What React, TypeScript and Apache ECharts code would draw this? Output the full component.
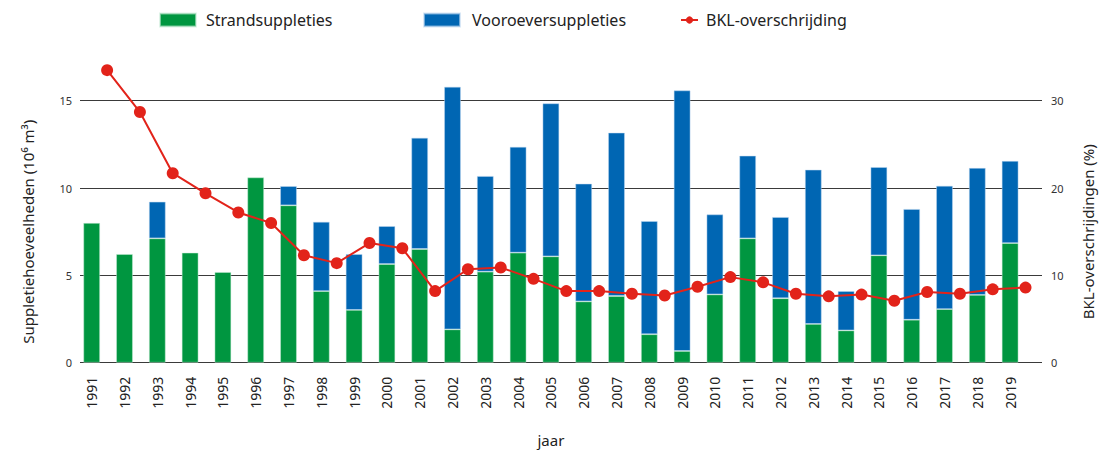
import React, { useEffect, useRef } from "react";
import * as echarts from "echarts";

const years = [
  "1991", "1992", "1993", "1994", "1995", "1996", "1997", "1998", "1999", "2000",
  "2001", "2002", "2003", "2004", "2005", "2006", "2007", "2008", "2009", "2010",
  "2011", "2012", "2013", "2014", "2015", "2016", "2017", "2018", "2019",
];

const strandsuppleties = [
  8.0, 6.22, 7.12, 6.3, 5.19, 10.61, 9.01, 4.1, 3.02, 5.65,
  6.51, 1.91, 5.21, 6.3, 6.09, 3.51, 3.82, 1.63, 0.67, 3.91,
  7.12, 3.69, 2.22, 1.85, 6.15, 2.46, 3.07, 3.88, 6.85,
];

const vooroeversuppleties = [
  null, null, 2.1, null, null, null, 1.1, 3.97, 3.2, 2.17,
  6.37, 13.89, 5.48, 6.06, 8.76, 6.74, 9.35, 6.48, 14.92, 4.58,
  4.73, 4.65, 8.83, 2.25, 5.05, 6.34, 7.06, 7.27, 4.7,
];

const bklOverschrijding = [
  33.5, 28.7, 21.7, 19.4, 17.2, 16.0, 12.3, 11.4, 13.7, 13.1,
  8.2, 10.7, 10.9, 9.6, 8.2, 8.2, 7.9, 7.7, 8.7, 9.8,
  9.2, 7.9, 7.6, 7.8, 7.1, 8.1, 7.9, 8.4, 8.6,
];

const leftTicks = { min: 0, max: 15, interval: 5 };
const rightTicks = { min: 0, max: 30, interval: 10 };

const LINE_OFFSET = 0.47;

const GREEN = "#009640";
const BLUE = "#0066b3";
const RED = "#e2231a";
const FONT = "Noto Sans";

export default function App() {
  const ref = useRef<HTMLDivElement>(null);

  useEffect(() => {
    if (!ref.current) return;
    const chart = echarts.init(ref.current, null, { renderer: "svg" });
    const top = 100.7;
    const height = 262;

    const legendText = (pad: number) => ({
      fontSize: 16,
      color: "#222",
      fontFamily: FONT,
      padding: [0, 0, 0, pad],
    });

    const option: any = {
      animation: false,
      backgroundColor: "#ffffff",
      textStyle: { fontFamily: FONT },
      legend: [
        {
          data: [{ name: "Strandsuppleties", icon: "rect" }],
          left: 159,
          top: 12,
          padding: 0,
          itemWidth: 36,
          itemHeight: 13,
          textStyle: legendText(5),
        },
        {
          data: [{ name: "Vooroeversuppleties", icon: "rect" }],
          left: 423,
          top: 12,
          padding: 0,
          itemWidth: 36,
          itemHeight: 13,
          textStyle: legendText(7),
        },
        {
          data: ["BKL-overschrijding"],
          left: 680,
          top: 12,
          padding: 0,
          itemWidth: 17,
          itemHeight: 9,
          textStyle: legendText(3),
        },
      ],
      grid: [
        { left: 80, right: 68, top, height },
        { left: 75.3, width: 951.2, top, height },
      ],
      xAxis: [
        { type: "value", gridIndex: 0, show: false, min: 0, max: 1 },
        {
          type: "category",
          gridIndex: 1,
          data: years,
          axisLine: { show: false },
          axisTick: { show: false },
          axisLabel: {
            rotate: 90,
            margin: 14,
            fontSize: 14,
            color: "#222",
            fontFamily: FONT,
            interval: 0,
          },
          name: "jaar",
          nameLocation: "middle",
          nameGap: 70,
          nameTextStyle: { fontSize: 15, color: "#222", fontFamily: FONT },
        },
        { type: "value", gridIndex: 1, show: false, min: -0.5, max: years.length - 0.5 },
      ],
      yAxis: [
        {
          type: "value",
          gridIndex: 0,
          position: "left",
          ...leftTicks,
          axisLine: { show: false },
          axisTick: { show: false },
          splitLine: { show: true, lineStyle: { color: "#3a3a3a", width: 1 } },
          axisLabel: { margin: 8, fontSize: 11, color: "#333", fontFamily: FONT },
          name: "Suppletiehoeveelheden (10\u2076 m\u00b3)",
          nameLocation: "middle",
          nameRotate: 90,
          nameGap: 45,
          nameTextStyle: { fontSize: 15, color: "#222", fontFamily: FONT },
        },
        {
          type: "value",
          gridIndex: 0,
          position: "right",
          ...rightTicks,
          axisLine: { show: false },
          axisTick: { show: false },
          splitLine: { show: false },
          axisLabel: { margin: 9, fontSize: 11, color: "#333", fontFamily: FONT },
          name: "BKL-overschrijdingen (%)",
          nameLocation: "middle",
          nameRotate: 90,
          nameGap: 38,
          nameTextStyle: { fontSize: 15, color: "#222", fontFamily: FONT },
        },
        { type: "value", gridIndex: 1, show: false, ...leftTicks },
        { type: "value", gridIndex: 1, show: false, ...rightTicks },
      ],
      series: [
        {
          name: "Strandsuppleties",
          type: "bar",
          stack: "supp",
          xAxisIndex: 1,
          yAxisIndex: 2,
          data: strandsuppleties,
          barWidth: "51%",
          clip: false,
          itemStyle: { color: GREEN, borderColor: "rgba(200,235,215,0.6)", borderWidth: 0.8 },
        },
        {
          name: "Vooroeversuppleties",
          type: "bar",
          stack: "supp",
          xAxisIndex: 1,
          yAxisIndex: 2,
          data: vooroeversuppleties,
          barWidth: "51%",
          clip: false,
          itemStyle: { color: BLUE, borderColor: "rgba(190,215,240,0.6)", borderWidth: 0.8 },
        },
        {
          name: "BKL-overschrijding",
          type: "line",
          xAxisIndex: 2,
          yAxisIndex: 3,
          data: bklOverschrijding.map((v, i) => [i + LINE_OFFSET, v]),
          clip: false,
          symbol: "circle",
          symbolSize: 12,
          lineStyle: { color: RED, width: 2 },
          itemStyle: { color: RED },
          z: 5,
        },
      ],
    };

    chart.setOption(option);
    return () => chart.dispose();
  }, []);

  return (
    <div
      ref={ref}
      style={{ position: "fixed", left: 0, top: 0, width: 1110, height: 454 }}
    />
  );
}
